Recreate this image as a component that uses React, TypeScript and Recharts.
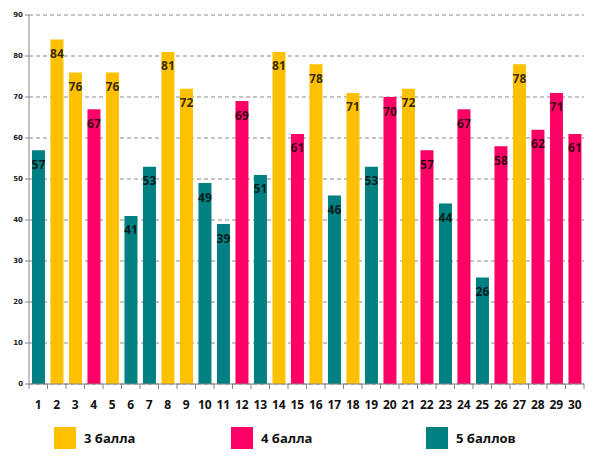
import { BarChart, Bar, XAxis, YAxis, CartesianGrid, Legend, LabelList, Cell } from "recharts";

const categories = [
  "1", "2", "3", "4", "5", "6", "7", "8", "9", "10",
  "11", "12", "13", "14", "15", "16", "17", "18", "19", "20",
  "21", "22", "23", "24", "25", "26", "27", "28", "29", "30",
];
const scores = [57, 84, 76, 67, 76, 41, 53, 81, 72, 49, 39, 69, 51, 81, 61, 78, 46, 71, 53, 70, 72, 57, 44, 67, 26, 58, 78, 62, 71, 61];
const grades = [5, 3, 3, 4, 3, 5, 5, 3, 3, 5, 5, 4, 5, 3, 4, 3, 5, 3, 5, 4, 3, 4, 5, 4, 5, 4, 3, 4, 4, 4];
const yTicks = [0, 10, 20, 30, 40, 50, 60, 70, 80, 90];

const GRADE_COLORS: Record<number, string> = { 3: "#ffc000", 4: "#ff0066", 5: "#008080" };
const legendItems = [
  { grade: 3, label: "3 балла", left: 54 },
  { grade: 4, label: "4 балла", left: 231 },
  { grade: 5, label: "5 баллов", left: 426 },
];

const data = categories.map((c, i) => ({ name: c, value: scores[i], grade: grades[i] }));

const FONT = "'Open Sans', 'DejaVu Sans', sans-serif";

function XTick(props: any) {
  const { x, y, payload, index, visibleTicksCount } = props;
  const half = payload?.offset ?? 9.25;
  const last = index === (visibleTicksCount ?? categories.length) - 1;
  return (
    <g>
      <line x1={x - half} x2={x - half} y1={y - 8} y2={y - 3} stroke="#868686" />
      {last && <line x1={x + half} x2={x + half} y1={y - 8} y2={y - 3} stroke="#868686" />}
      <text x={x} y={y + 17} textAnchor="middle" fontSize={12} fontWeight={700} fontFamily={FONT} fill="#111">
        {payload.value}
      </text>
    </g>
  );
}

function LegendContent() {
  return (
    <div style={{ position: "relative", width: 599, height: 46 }}>
      {legendItems.map((it) => (
        <div key={it.grade} style={{ position: "absolute", left: it.left, top: 12, display: "flex", alignItems: "center" }}>
          <div style={{ width: 22, height: 22, background: GRADE_COLORS[it.grade] }} />
          <span style={{ marginLeft: 8, fontFamily: FONT, fontWeight: 700, fontSize: 13, color: "#111" }}>{it.label}</span>
        </div>
      ))}
    </div>
  );
}

export default function App() {
  return (
    <div style={{ position: "absolute", left: 0, top: 0, width: 599, height: 461, background: "#fff" }}>
      <BarChart
        width={599}
        height={461}
        data={data}
        margin={{ top: 15, right: 15, bottom: 0, left: 0 }}
        barCategoryGap="16%"
      >
        <CartesianGrid vertical={false} stroke="#8a8a8a" strokeDasharray="4 3" />
        <XAxis
          dataKey="name"
          height={31}
          axisLine={{ stroke: "#868686" }}
          tickLine={false}
          tick={<XTick />}
          interval={0}
        />
        <YAxis
          width={29}
          domain={[0, 90]}
          ticks={yTicks}
          interval={0}
          axisLine={{ stroke: "#868686" }}
          tickLine={{ stroke: "#868686" }}
          tickSize={4}
          tick={{ fontSize: 7, fontFamily: "'DejaVu Sans', sans-serif", fontWeight: 700, fill: "#222" }}
        />
        <Legend verticalAlign="bottom" height={46} content={<LegendContent />} wrapperStyle={{ left: 0, width: 599 }} />
        <Bar dataKey="value" isAnimationActive={false}>
          {data.map((d, i) => (
            <Cell key={i} fill={GRADE_COLORS[d.grade]} />
          ))}
          <LabelList
            dataKey="value"
            position="insideTop"
            offset={10}
            fill="#000"
            fillOpacity={0.8}
            fontSize={12}
            fontWeight={700}
            fontFamily={FONT}
          />
        </Bar>
      </BarChart>
    </div>
  );
}
